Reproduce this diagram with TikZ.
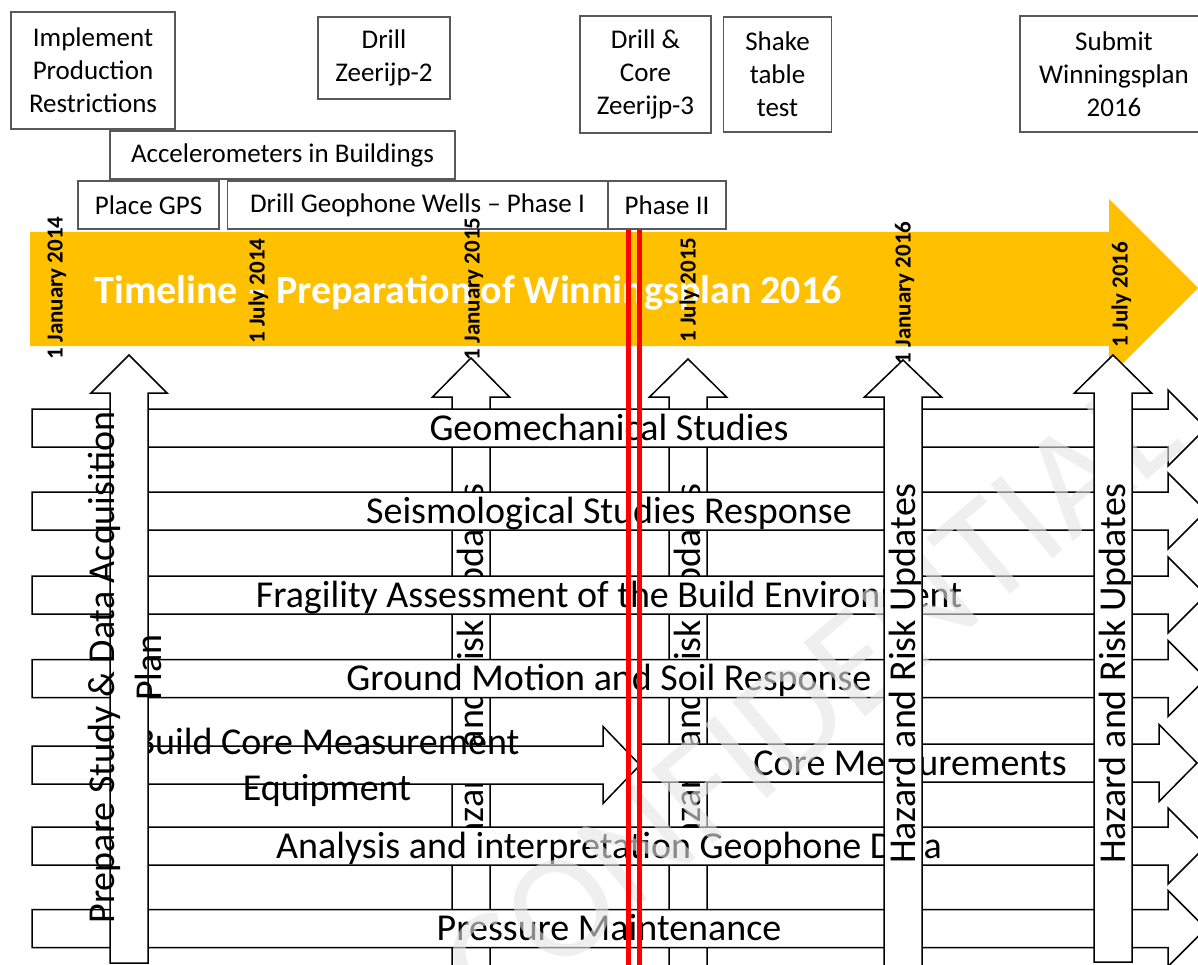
\documentclass[tikz,border=0pt]{standalone}
\usepackage{fontspec}
\setmainfont{Carlito}
\usetikzlibrary{positioning}
\definecolor{gold}{RGB}{255,192,0}
\definecolor{boxgray}{RGB}{89,89,89}

\begin{document}
\begin{tikzpicture}[x=1pt,y=-1pt,
    taskbox/.style={draw=boxgray,line width=1.5pt,fill=white,inner sep=0pt,align=center,
      font=\fontsize{27}{33}\selectfont},
    barshape/.style={draw=black,line width=1.5pt,fill=white},
    rowtext/.style={anchor=base,font=\fontsize{38}{47}\selectfont},
    uptext/.style={anchor=base,rotate=90,font=\fontsize{38}{47}\selectfont},
    datelbl/.style={anchor=base,rotate=90,font=\fontsize{23}{28}\selectfont\bfseries}]
    \useasboundingbox (0,0) rectangle (1198,965);
    \fill[white] (0,0) rectangle (1198,965);

    \node[taskbox,minimum width=164pt,minimum height=117pt] (restrict) at (93,70.5) {Implement\\Production\\Restrictions};
    \node[taskbox,minimum width=132pt,minimum height=82pt] (zeerijp2) at (384,58) {Drill\\Zeerijp-2};
    \node[taskbox,minimum width=131pt,minimum height=117pt] (zeerijp3) at (645.5,74.5) {Drill \&\\Core\\Zeerijp-3};
    \node[taskbox,minimum width=108pt,minimum height=115pt,right=11pt of zeerijp3] (shake) {Shake\\table\\test};
    \node[taskbox,minimum width=188pt,minimum height=116pt] (submit) at (1114,74) {Submit\\Winningsplan\\2016};
    \node[taskbox,minimum width=345pt,minimum height=48pt] (accel) at (282.5,155) {Accelerometers in Buildings};
    \node[taskbox,minimum width=141pt,minimum height=48pt] (gps) at (148.5,205) {Place GPS};
    \node[taskbox,minimum width=380pt,minimum height=48pt,right=7pt of gps] (geowells) {Drill Geophone Wells – Phase I};
    \node[taskbox,minimum width=118pt,minimum height=48pt,right=-1pt of geowells] (phase2) {Phase II};

    \fill[gold] (30,232) -- (1109,232) -- (1109,199) -- (1198,288) -- (1109,377) -- (1109,346) -- (30,346) -- cycle;
    \node[anchor=base west,text=white,font=\fontsize{40}{48}\selectfont\bfseries] (title) at (91,303) {Timeline – Preparation of Winningsplan 2016};

    \foreach \ax/\tipy/\basey [count=\i] in {471/358/397,688/359/397}{
      \draw[barshape] (\ax-19,975) -- (\ax-19,\basey) -- (\ax-38.5,\basey) -- (\ax,\tipy)
        -- (\ax+38.5,\basey) -- (\ax+19,\basey) -- (\ax+19,975) -- cycle;
      \node[uptext] (hazmid\i) at (\ax+12,673.5) {Hazard and Risk Updates};
    }

    \foreach \ry/\rtext [count=\i] in {428/Geomechanical Studies,511/Seismological Studies Response,
        595/Fragility Assessment of the Build Environment,678.5/Ground Motion and Soil Response,
        846/Analysis and interpretation Geophone Data,928.5/Pressure Maintenance}{
      \draw[barshape] (32,\ry-19) -- (1168,\ry-19) -- (1168,\ry-38) -- (1206,\ry)
        -- (1168,\ry+38) -- (1168,\ry+19) -- (32,\ry+19) -- cycle;
      \node[rowtext] (row\i) at (609,\ry+12) {\rtext};
    }
    \draw[barshape] (32,746) -- (603,746) -- (603,726.5) -- (640,765) -- (603,803.5) -- (603,784) -- (32,784) -- cycle;
    \node[align=center,font=\fontsize{38}{46}\selectfont] (buildcore) at (327,767) {Build Core Measurement\\Equipment};
    \draw[barshape] (641,744) -- (1159,744) -- (1159,724.5) -- (1197,763) -- (1159,801.5) -- (1159,782) -- (641,782) -- cycle;
    \node[rowtext] (coremeas) at (910,775) {Core Measurements};

    \node[rotate=40,text=gray!20,opacity=0.6,font=\fontsize{150}{150}\selectfont] (stamp) at (810,700) {CONFIDENTIAL};

    \draw[barshape] (110,963) -- (110,393) -- (91,393) -- (129,355) -- (167,393) -- (148,393) -- (148,963) -- cycle;
    \node[rotate=90,align=center,font=\fontsize{38}{47}\selectfont] (prepare) at (125,667.5) {Prepare Study \& Data Acquisition\\Plan};
    \foreach \ax/\tipy/\basey/\boty [count=\i] in {903/360/397/975,1113/355/393/962}{
      \draw[barshape] (\ax-19,\boty) -- (\ax-19,\basey) -- (\ax-38.5,\basey) -- (\ax,\tipy)
        -- (\ax+38.5,\basey) -- (\ax+19,\basey) -- (\ax+19,\boty) -- cycle;
      \node[uptext] (hazfront\i) at (\ax+12,673.5) {Hazard and Risk Updates};
    }

    \foreach \dx/\dy/\dtext [count=\i] in {55/288/1 January 2014,257/291/1 July 2014,472/289/1 January 2015,
        688/290/1 July 2015,903/293/1 January 2016,1120/294.5/1 July 2016}{
      \node[datelbl] (date\i) at (\dx+7.5,\dy) {\dtext};
    }

    \draw[red,line width=5pt] (628,230) -- (628,965);
    \draw[red,line width=5pt] (639.5,230) -- (639.5,965);
\end{tikzpicture}
\end{document}
